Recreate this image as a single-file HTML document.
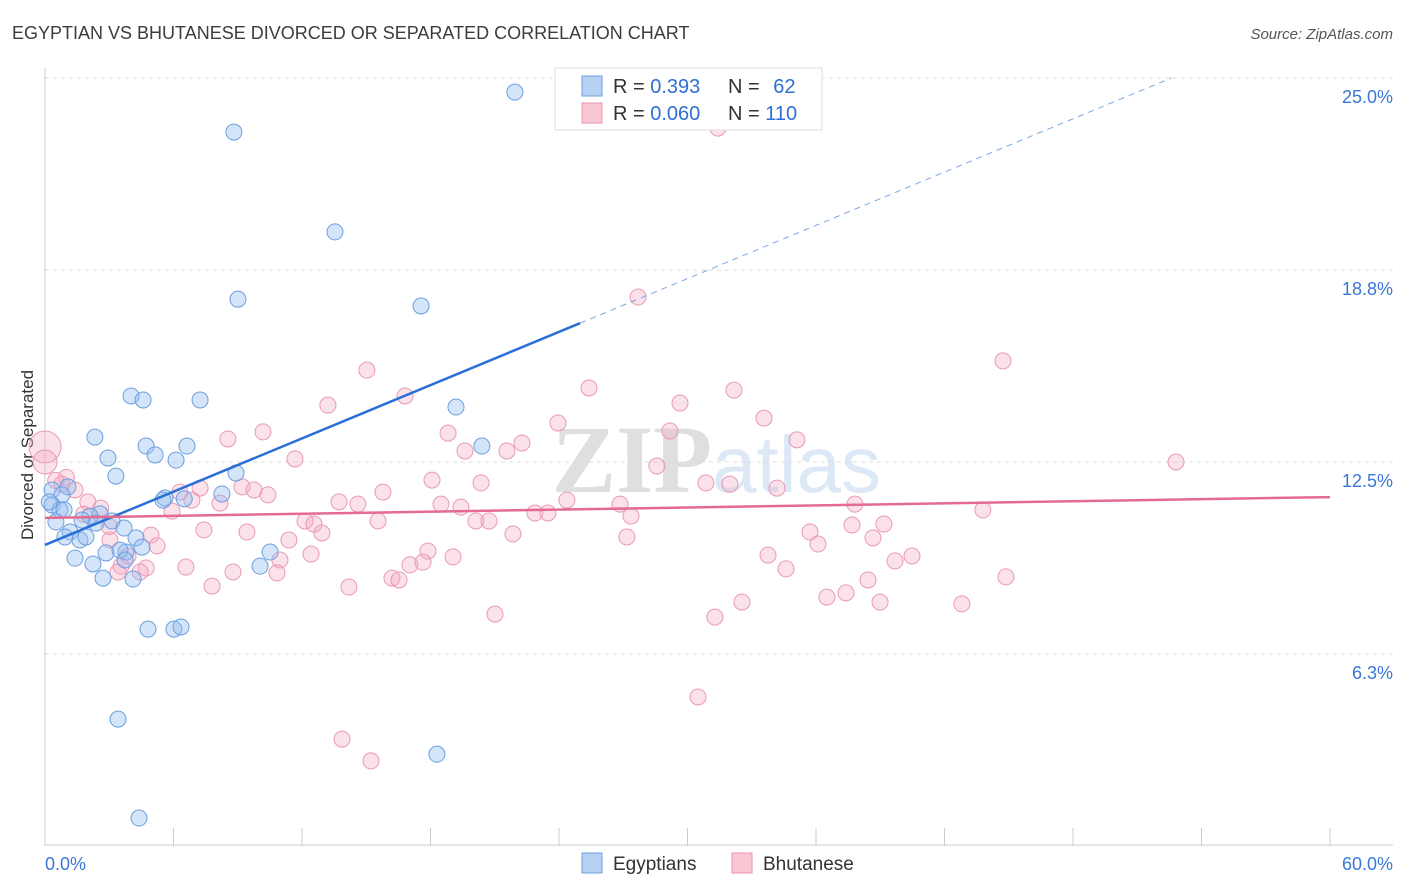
<!DOCTYPE html>
<html><head><meta charset="utf-8"><style>
body{margin:0;background:#fff;font-family:"Liberation Sans",sans-serif}
svg{display:block}
</style></head><body>
<svg id="chart" width="1406" height="892" xmlns="http://www.w3.org/2000/svg">
<text x="12" y="39" font-size="18" fill="#3c3c3c">EGYPTIAN VS BHUTANESE DIVORCED OR SEPARATED CORRELATION CHART</text>
<text x="1393" y="39" font-size="15" fill="#555" font-style="italic" text-anchor="end">Source: ZipAtlas.com</text>
<text x="0" y="0" transform="translate(33,455) rotate(-90)" font-size="17" fill="#333" text-anchor="middle">Divorced or Separated</text>
<g opacity="0.18">
<text x="552" y="492" font-size="96" font-family="Liberation Serif,serif" fill="#555" font-weight="bold">ZIP</text>
<text x="712" y="492" font-size="80" fill="#4a86d8">atlas</text>
</g>
<g id="grid"></g>
<g id="axes"></g>
<g id="pts"></g>
<g id="lines"></g>
<g>
<rect x="555" y="68" width="267" height="62" fill="#fff" stroke="#ddd"/>
<rect x="582" y="76" width="20" height="20" fill="#b7d1f3" stroke="#6fa0e0"/>
<rect x="582" y="103" width="20" height="20" fill="#f9c6d4" stroke="#e896b0"/>
<text x="613" y="93" font-size="20" fill="#333">R = <tspan fill="#2f6fd6">0.393</tspan></text>
<text x="728" y="93" font-size="20" fill="#333">N = <tspan fill="#2f6fd6" dx="8">62</tspan></text>
<text x="613" y="120" font-size="20" fill="#333">R = <tspan fill="#2f6fd6">0.060</tspan></text>
<text x="728" y="120" font-size="20" fill="#333">N = <tspan fill="#2f6fd6">110</tspan></text>
</g>
<g>
<rect x="582" y="853" width="20" height="20" fill="#b7d1f3" stroke="#6fa0e0"/>
<text x="613" y="870" font-size="19" fill="#333">Egyptians</text>
<rect x="732" y="853" width="20" height="20" fill="#f9c6d4" stroke="#e896b0"/>
<text x="763" y="870" font-size="19" fill="#333">Bhutanese</text>
</g>
</svg>
<script>
const yTicks=[25,18.75,12.5,6.25];
const yTickLabels=["25.0%","18.8%","12.5%","6.3%"];
const xTickCount=10;
const egyX=[21.94,8.82,13.54,9.01,17.56,4.02,4.58,7.24,19.19,2.33,4.72,6.63,20.40,5.14,2.94,6.12,3.31,8.92,0.33,1.07,0.79,5.60,8.26,5.51,0.33,0.70,0.89,2.57,2.10,1.73,3.13,0.51,2.38,3.69,1.17,0.93,1.63,1.91,4.25,4.53,2.85,3.78,3.50,1.40,2.24,10.51,3.74,10.04,2.71,4.11,4.81,6.02,6.35,3.41,18.30,4.39,0.2,6.5];
const egyY=[24.54,23.24,19.99,17.80,17.58,14.65,14.52,14.52,14.29,13.31,13.02,13.02,13.02,12.73,12.63,12.56,12.04,12.14,11.59,11.69,11.43,11.33,11.46,11.26,11.10,10.94,10.94,10.81,10.74,10.61,10.58,10.55,10.51,10.35,10.22,10.06,9.96,10.06,10.03,9.73,9.54,9.57,9.63,9.37,9.18,9.57,9.31,9.11,8.72,8.69,7.06,7.06,7.13,4.13,2.99,0.91,11.2,11.3];
const bhuX=[31.42,27.69,44.73,15.03,25.40,32.17,16.81,29.65,13.21,33.57,23.95,10.18,18.82,29.18,8.54,35.11,22.27,19.61,21.57,11.67,52.81,28.57,0,0,18.07,30.86,31.98,20.36,34.18,15.78,0.79,1.40,6.30,7.24,9.20,9.76,10.41,6.86,8.17,13.73,14.61,18.49,19.42,24.37,26.85,37.82,43.79,5.93,22.88,23.48,27.36,12.14,12.56,15.55,20.12,20.73,37.68,39.17,12.93,7.42,9.43,4.95,21.85,35.72,3.03,11.39,27.17,38.66,36.09,5.23,12.42,17.88,19.05,33.76,40.48,39.69,10.97,3.88,3.55,17.04,17.65,4.72,6.58,34.60,3.41,4.44,8.78,10.83,16.20,16.53,44.87,38.43,14.19,7.80,37.40,36.51,32.54,38.99,42.81,21.01,31.28,30.49,13.87,15.22,1.0,2.0,1.8,2.6,3.0,0.5];
const bhuY=[23.37,17.87,15.79,15.49,14.91,14.84,14.65,14.42,14.35,13.93,13.77,13.48,13.44,13.51,13.25,13.22,13.12,12.86,12.86,12.60,12.50,12.37,12.99,12.5,11.91,11.82,11.78,11.82,11.65,11.52,11.78,11.59,11.52,11.65,11.69,11.59,11.43,11.26,11.16,11.20,11.13,11.13,11.03,11.26,11.13,11.13,10.94,10.90,10.84,10.84,10.74,10.58,10.48,10.58,10.58,10.58,10.45,10.48,10.19,10.29,10.22,10.12,10.16,10.22,9.96,9.96,10.06,10.03,9.83,9.77,9.50,9.60,9.41,9.47,9.44,9.28,9.31,9.44,9.11,9.15,9.24,9.05,9.08,9.02,8.92,8.92,8.92,8.89,8.72,8.66,8.76,8.66,8.43,8.46,8.24,8.10,7.94,7.94,7.88,7.55,7.45,4.85,3.48,2.77,12.0,11.2,10.8,11.0,10.4,11.9];
const bhuR=[];bhuY.forEach((v,i)=>bhuR.push(i===22?16:(i===23?12:8)));
const egyTrend=[9.80,0.289];
const bhuTrend=[10.68,0.0113];
const X0=45,X1=1330,Y0=846,PXPER=30.72;
const sx=v=>X0+v/60*(X1-X0);
const sy=v=>Y0-v*PXPER;
const NS="http://www.w3.org/2000/svg";
function mk(tag,attrs,parent){const e=document.createElementNS(NS,tag);for(const k in attrs)e.setAttribute(k,attrs[k]);parent.appendChild(e);return e;}
const grid=document.getElementById('grid');
yTicks.forEach((t,i)=>{
 const l=mk('line',{x1:X0,x2:1393,y1:sy(t),y2:sy(t),stroke:'#ddd','stroke-dasharray':'4,4'},grid);
 
 
 const tx=mk('text',{x:1393,y:sy(t)+25,'font-size':18,fill:'#3a78d8','text-anchor':'end'},grid);
 tx.textContent=yTickLabels[i];
 
 
});
const axes=document.getElementById('axes');
const ya=mk('line',{x1:X0,x2:X0,y1:68,y2:Y0,stroke:'#ccc'},axes);


const xa=mk('line',{x1:X0,x2:1393,y1:Y0-1,y2:Y0-1,stroke:'#ccc'},axes);


for(let i=0;i<=xTickCount;i++){
 const v=60*i/xTickCount;
 const t=mk('line',{x1:sx(v),x2:sx(v),y1:Y0-18,y2:Y0,stroke:'#ccc'},axes);
 
 
}
const xl0=mk('text',{x:45,y:870,'font-size':18,fill:'#3a78d8'},axes);xl0.textContent='0.0%';


const xl1=mk('text',{x:1393,y:870,'font-size':18,fill:'#3a78d8','text-anchor':'end'},axes);xl1.textContent='60.0%';


const pts=document.getElementById('pts');
bhuX.forEach((x,i)=>{
 const c=mk('circle',{cx:sx(x),cy:sy(bhuY[i]),r:bhuR[i],fill:'rgba(244,170,195,0.35)',stroke:'#e99ab4','stroke-width':1},pts);
 
 
});
egyX.forEach((x,i)=>{
 const c=mk('circle',{cx:sx(x),cy:sy(egyY[i]),r:8,fill:'rgba(150,190,240,0.4)',stroke:'#6c9fe0','stroke-width':1},pts);
 
 
});
const lines=document.getElementById('lines');
const xSolid=24.98,xEnd=(25-egyTrend[0])/egyTrend[1];
const l1=mk('line',{x1:sx(0),y1:sy(egyTrend[0]),x2:sx(xSolid),y2:sy(egyTrend[0]+egyTrend[1]*xSolid),stroke:'#2a6fd8','stroke-width':2.5},lines);


const l2=mk('line',{x1:sx(xSolid),y1:sy(egyTrend[0]+egyTrend[1]*xSolid),x2:sx(xEnd),y2:sy(25),stroke:'#7aa6e6','stroke-width':1,'stroke-dasharray':'6,5'},lines);


const l3=mk('line',{x1:sx(0),y1:sy(bhuTrend[0]),x2:sx(60),y2:sy(bhuTrend[0]+bhuTrend[1]*60),stroke:'#e46a92','stroke-width':2.5},lines);


</script>
</body></html>
